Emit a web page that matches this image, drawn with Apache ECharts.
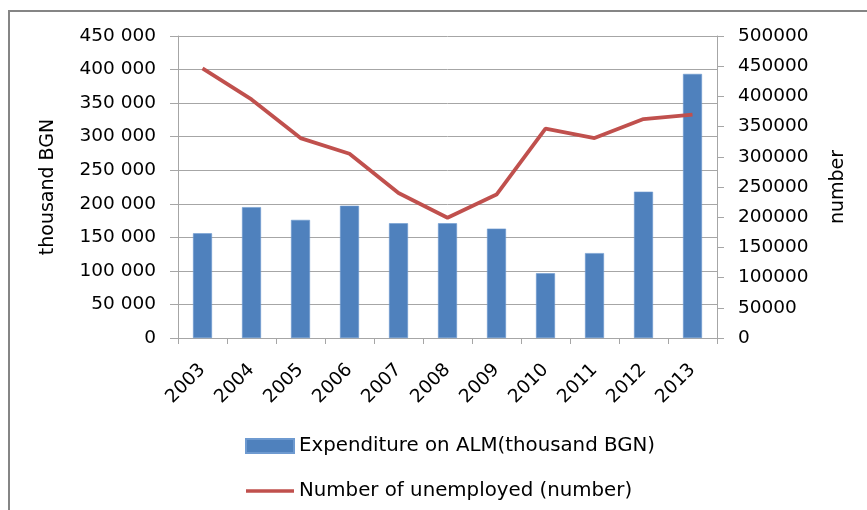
<!DOCTYPE html>
<html>
<head>
<meta charset="utf-8">
<style>
  html, body { margin: 0; padding: 0; background: #fff; }
  #chart { width: 867px; height: 510px; }
</style>
<script src="https://cdn.jsdelivr.net/npm/echarts@6/dist/echarts.min.js"></script>
</head>
<body>
<div id="chart"></div>
<script>
// Years on the category axis
const years = ['2003', '2004', '2005', '2006', '2007', '2008', '2009', '2010', '2011', '2012', '2013'];

// Spending on active labour market measures, thousand BGN (left axis)
const expenditure = [156000, 195000, 176000, 197000, 171000, 171000, 163000, 96500, 126500, 218000, 393500];

// Number of unemployed people (right axis)
const unemployed = [446500, 395000, 331000, 305000, 240000, 199000, 237500, 346500, 331000, 362500, 370000];

// Axis ranges
const leftMax = 450000;
const rightMax = 500000;
const step = 50000;

const seriesNames = ['Expenditure on ALM(thousand BGN)', 'Number of unemployed (number)'];

const FONT = 'DejaVu Sans';
const gray = '#A6A6A6';

// Left axis uses a space as the thousands separator
function spaced(v) {
  return String(v).replace(/\B(?=(\d{3})+(?!\d))/g, ' ');
}

// Right axis shows plain digits
function plain(v) {
  return String(v);
}

const chart = echarts.init(document.getElementById('chart'), null, { renderer: 'canvas' });

chart.setOption({
  animation: false,
  backgroundColor: '#fff',
  textStyle: { fontFamily: FONT, color: '#000' },
  graphic: [{
    type: 'rect',
    shape: { x: 9, y: 11, width: 920, height: 600 },
    style: { fill: 'none', stroke: '#858585', lineWidth: 2 },
    silent: true,
    z: -10
  }],
  grid: { left: 178, right: 150, top: 36, bottom: 172, containLabel: false },
  legend: {
    orient: 'vertical',
    left: 240,
    top: 431,
    itemWidth: 48,
    itemHeight: 14,
    itemGap: 25,
    symbolKeepAspect: true,
    textStyle: { fontFamily: FONT, fontSize: 19.8, color: '#000' },
    data: [
      { name: seriesNames[0], icon: 'rect' },
      { name: seriesNames[1], icon: 'path://M0,0H48V3.5H0Z' }
    ]
  },
  xAxis: {
    type: 'category',
    data: years,
    boundaryGap: true,
    axisLine: { lineStyle: { color: gray, width: 1 } },
    axisTick: { show: true, length: 6, lineStyle: { color: gray } },
    axisLabel: {
      rotate: 45,
      margin: 29,
      fontFamily: FONT,
      fontSize: 18.5,
      color: '#000'
    }
  },
  yAxis: [
    {
      type: 'value',
      min: 0,
      max: leftMax,
      interval: step,
      name: 'thousand BGN',
      nameLocation: 'middle',
      nameRotate: 90,
      nameGap: 120,
      nameTextStyle: { fontFamily: FONT, fontSize: 19, color: '#000' },
      axisLine: { show: true, lineStyle: { color: gray } },
      axisTick: { show: true, inside: false, length: 8, lineStyle: { color: gray } },
      splitLine: { show: true, lineStyle: { color: gray, width: 1 } },
      axisLabel: {
        margin: 22,
        fontFamily: FONT,
        fontSize: 18.5,
        color: '#000',
        formatter: spaced
      }
    },
    {
      type: 'value',
      min: 0,
      max: rightMax,
      interval: step,
      name: 'number',
      nameLocation: 'middle',
      nameRotate: 90,
      nameGap: 112,
      nameTextStyle: { fontFamily: FONT, fontSize: 19, color: '#000' },
      axisLine: { show: true, lineStyle: { color: gray } },
      axisTick: { show: true, inside: false, length: 7, lineStyle: { color: gray } },
      splitLine: { show: false },
      axisLabel: {
        margin: 21,
        fontFamily: FONT,
        fontSize: 18.5,
        color: '#000',
        formatter: plain
      }
    }
  ],
  series: [
    {
      name: seriesNames[0],
      type: 'bar',
      yAxisIndex: 0,
      data: expenditure,
      barWidth: 19,
      itemStyle: { color: '#4F81BD', borderColor: '#6E9AD0', borderWidth: 0.6 },
      z: 2
    },
    {
      name: seriesNames[1],
      type: 'line',
      yAxisIndex: 1,
      data: unemployed,
      symbol: 'none',
      smooth: false,
      lineStyle: { color: '#C0504D', width: 3.8 },
      itemStyle: { color: '#C0504D' },
      z: 3
    }
  ]
});
</script>
</body>
</html>
